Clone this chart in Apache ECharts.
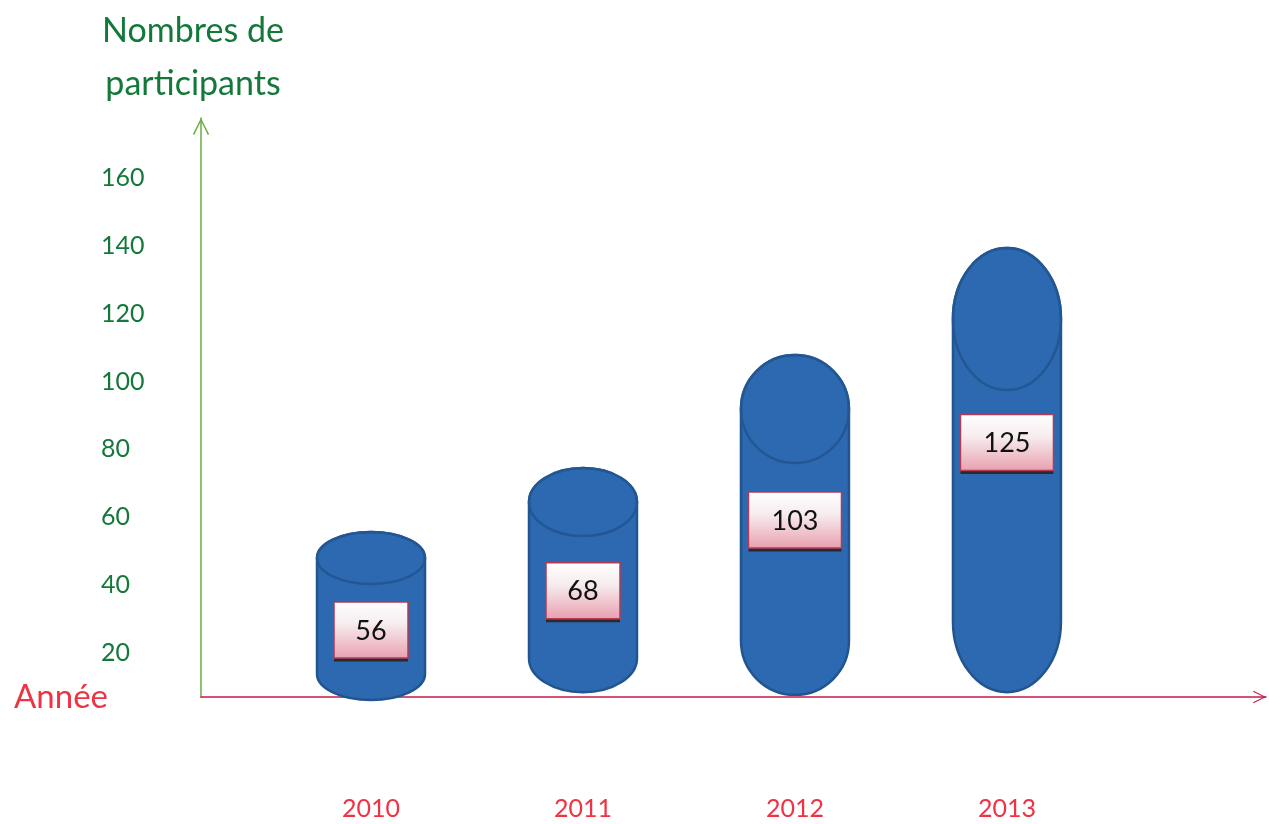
<!DOCTYPE html>
<html>
<head>
<meta charset="utf-8">
<script src="https://cdn.jsdelivr.net/npm/echarts@6/dist/echarts.min.js"></script>
<style>
  html, body { margin: 0; padding: 0; background: #fff; }
  #chart { width: 1269px; height: 824px; }
</style>
</head>
<body>
<div id="chart"></div>
<script>
// values
const years = [2010, 2011, 2012, 2013];
const participants = [56, 68, 103, 125];       // numbers written in the boxes
const barTops = [55.7, 74.5, 107.8, 139.3];    // top of each drawn cylinder, axis units
const barBottoms = [6.2, 8.5, 7.7, 8.5];       // bottom of each cylinder
const labelLevels = [26.8, 38.4, 59.2, 82.0];  // centre of each number box
const yTicks = [20, 40, 60, 80, 100, 120, 140, 160];

const GREEN = '#13783a';
const RED = '#ee3344';
const FONT = 'Lato';

// cap height of each cylinder in px (drawing style only)
const capRy = [26, 34, 54, 71];

const chevron = 'path://M0,20 L10,0 L20,20 L18.4,20.9 L10,3.6 L1.6,20.9 Z';

let myChart = echarts.init(document.getElementById('chart'));

function renderCylinder(params, api) {
    const i = params.dataIndex;
    const top = api.coord([api.value(0), api.value(1)]);
    const cx = top[0];
    const yTop = top[1];
    const yBot = api.coord([api.value(0), api.value(2)])[1];
    const yLab = api.coord([api.value(0), api.value(3)])[1];
    const text = String(api.value(4));
    const rx = 54;
    const ry = capRy[i];
    const L = cx - rx, R = cx + rx;
    const yt = yTop + ry, yb = yBot - ry;

    const body = 'M' + L + ',' + yt + ' L' + L + ',' + yb +
        ' A' + rx + ',' + ry + ' 0 0 0 ' + R + ',' + yb +
        ' L' + R + ',' + yt +
        ' A' + rx + ',' + ry + ' 0 0 0 ' + L + ',' + yt + ' Z';
    const cap = 'M' + L + ',' + yt +
        ' A' + rx + ',' + ry + ' 0 0 0 ' + R + ',' + yt +
        ' A' + rx + ',' + ry + ' 0 0 0 ' + L + ',' + yt + ' Z';

    const bw = text.length > 2 ? 93 : 74;
    const bh = 56;
    const bx = cx - bw / 2, by = yLab - bh / 2;

    return {
        type: 'group',
        children: [
            { type: 'path', shape: { pathData: body },
              style: { fill: '#2d69b1', stroke: '#20558f', lineWidth: 2.5 } },
            { type: 'path', shape: { pathData: cap },
              style: { fill: 'none', stroke: '#235794', lineWidth: 2.5 } },
            { type: 'line', shape: { x1: bx, y1: by + bh + 2, x2: bx + bw, y2: by + bh + 2 },
              style: { stroke: '#2a2a2a', lineWidth: 3 } },
            { type: 'rect', shape: { x: bx, y: by, width: bw, height: bh },
              style: {
                  fill: new echarts.graphic.LinearGradient(0, 0, 0, 1, [
                      { offset: 0, color: '#ffffff' },
                      { offset: 0.4, color: '#f6ecee' },
                      { offset: 1, color: '#e99fae' }
                  ]),
                  stroke: '#b43a56', lineWidth: 1.5
              } },
            { type: 'text',
              style: { text: text, x: cx, y: yLab + 1, align: 'center', verticalAlign: 'middle',
                       fill: '#111', font: '27px ' + FONT } }
        ]
    };
}

const option = {
    animation: false,
    backgroundColor: '#fff',
    grid: { left: 201, right: 3, top: 118, bottom: 127 },
    xAxis: {
        type: 'value',
        min: 2009.198,
        max: 2014.222,
        name: 'Année',
        nameLocation: 'start',
        nameGap: 93,
        nameTextStyle: { color: RED, fontSize: 33, fontFamily: FONT, align: 'right',
                         verticalAlign: 'middle', padding: [26, 0, 0, 0] },
        axisLine: {
            show: true, onZero: false,
            lineStyle: { color: '#c81a4c', width: 1.5 },
            symbol: ['none', chevron], symbolSize: [22, 13], symbolOffset: [0, -6.5]
        },
        axisTick: { show: false },
        splitLine: { show: false },
        axisLabel: {
            customValues: years,
            formatter: v => String(v),
            color: RED, fontSize: 25, fontFamily: FONT, margin: 99
        }
    },
    yAxis: {
        type: 'value',
        min: 7.07,
        max: 177.6,
        name: 'Nombres de\nparticipants',
        nameLocation: 'end',
        nameGap: 7,
        nameTextStyle: { color: GREEN, fontSize: 34, fontFamily: FONT, lineHeight: 53,
                         align: 'center', padding: [0, 16, 0, 0] },
        axisLine: {
            show: true, onZero: false,
            lineStyle: { color: '#6aab3e', width: 1.5 },
            symbol: ['none', chevron], symbolSize: [18, 17], symbolOffset: [0, -8.5]
        },
        axisTick: { show: false },
        splitLine: { show: false },
        axisLabel: {
            customValues: yTicks,
            color: GREEN, fontSize: 25, fontFamily: FONT, align: 'left', margin: 100
        }
    },
    series: [{
        type: 'custom',
        name: 'Participants',
        renderItem: renderCylinder,
        encode: { x: 0, y: 1 },
        data: years.map((y, i) => [y, barTops[i], barBottoms[i], labelLevels[i], participants[i]])
    }]
};
myChart.setOption(option);
</script>
</body>
</html>
